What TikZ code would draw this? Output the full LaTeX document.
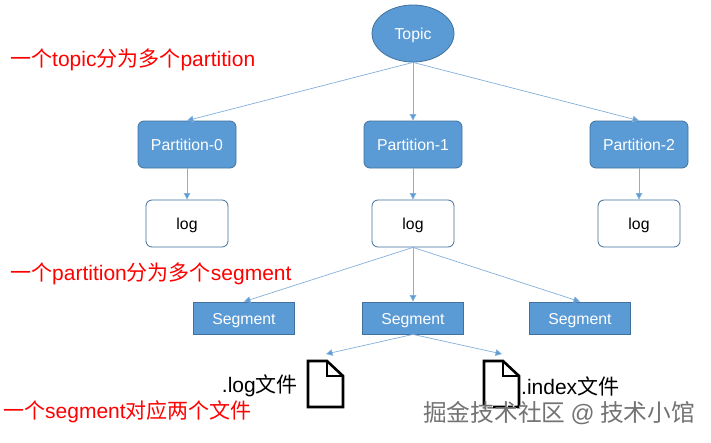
\documentclass[tikz,border=0pt]{standalone}
\usepackage{fontspec}
\setmainfont{Liberation Sans}
\newfontfamily\cjk{Noto Sans CJK SC}
\usetikzlibrary{shapes.geometric,arrows.meta}
\definecolor{fillb}{HTML}{5B9BD5}
\definecolor{edgeb}{HTML}{41719C}
\definecolor{linkb}{HTML}{84B0DC}
\newcommand\nt[1]{\raisebox{-6pt}[0pt][0pt]{#1}}
\tikzset{
  topicnode/.style={ellipse,draw=edgeb,fill=fillb,line width=0.8pt,minimum width=82pt,minimum height=57pt,inner sep=0pt,text=white,font=\fontsize{15.8}{17}\selectfont},
  partnode/.style={rectangle,rounded corners=6pt,draw=edgeb,fill=fillb,line width=0.8pt,minimum width=98pt,minimum height=47pt,inner sep=0pt,text=white,font=\fontsize{15.8}{17}\selectfont},
  lognode/.style={rectangle,rounded corners=6pt,draw=edgeb,fill=white,line width=0.8pt,minimum width=82pt,minimum height=47pt,inner sep=0pt,text=black,font=\fontsize{15.8}{17}\selectfont},
  segnode/.style={rectangle,draw=edgeb,fill=fillb,line width=0.8pt,minimum width=101pt,minimum height=32pt,inner sep=0pt,text=white,font=\fontsize{15.8}{17}\selectfont},
  link/.style={draw=linkb,line width=0.7pt,-{Triangle[length=6.5pt,width=6.5pt,fill=fillb]}},
  redtext/.style={text=red,anchor=west,inner sep=0pt,font=\fontsize{21}{23}\selectfont},
  blacktext/.style={text=black,inner sep=0pt,font=\fontsize{21}{23}\selectfont},
  filepath/.style={draw=black,line width=2.6pt,fill=white,line join=miter},
  mark text/.style={inner sep=0pt,font=\cjk\fontsize{23.7}{25}\selectfont}
}
\begin{document}
\begin{tikzpicture}[x=1pt,y=-1pt]
\useasboundingbox (0,0) rectangle (711,442);
\fill[white] (0,0) rectangle (711,442);
\node[topicnode] (topic) at (413,33.5) {\nt{Topic}};
\node[partnode] (p0) at (187,144.5) {\nt{Partition-0}};
\node[partnode] (p1) at (413,144.5) {\nt{Partition-1}};
\node[partnode] (p2) at (639,144.5) {\nt{Partition-2}};
\node[lognode] (l0) at (187,223.5) {\nt{log}};
\node[lognode] (l1) at (413,223.5) {\nt{log}};
\node[lognode] (l2) at (639,223.5) {\nt{log}};
\node[segnode] (s0) at (244,318) {\nt{Segment}};
\node[segnode] (s1) at (413,318) {\nt{Segment}};
\node[segnode] (s2) at (580,318) {\nt{Segment}};
\coordinate (f0) at (326,354);
\coordinate (f1) at (502,354);
\draw[link] (topic.south) -- (p0.north);
\draw[link] (topic.south) -- (p1.north);
\draw[link] (topic.south) -- (p2.north);
\draw[link] (p0.south) -- (l0.north);
\draw[link] (p1.south) -- (l1.north);
\draw[link] (p2.south) -- (l2.north);
\draw[link] (l1.south) -- (s0.north);
\draw[link] (l1.south) -- (s1.north);
\draw[link] (l1.south) -- (s2.north);
\draw[link] (s1.south) -- (f0);
\draw[link] (s1.south) -- (f1);
\draw[filepath] (308,361) -- (327,361) -- (343,376) -- (343,407) -- (308,407) -- cycle;
\draw[draw=black,line width=2.2pt] (327,361) -- (327,376) -- (343,376);
\draw[filepath] (484,361) -- (503,361) -- (519,376) -- (519,407) -- (484,407) -- cycle;
\draw[draw=black,line width=2.2pt] (503,361) -- (503,376) -- (519,376);
\node[redtext] (t1) at (10,60) {{\cjk 一个}topic{\cjk 分为多个}partition};
\node[redtext] (t2) at (10,274) {{\cjk 一个}partition{\cjk 分为多个}segment};
\node[redtext] (t3) at (3,412) {{\cjk 一个}segment{\cjk 对应两个文件}};
\node[blacktext,anchor=east] (t4) at (298,386) {.log{\cjk 文件}};
\node[blacktext,anchor=west] (t5) at (521,386) {.index{\cjk 文件}};
\node[mark text,text=white,anchor=west] (w0) at (423.8,414) {掘金技术社区 {\fontspec{Liberation Sans}@} 技术小馆};
\node[mark text,text=black!55,anchor=west] (w1) at (423,413) {掘金技术社区 {\fontspec{Liberation Sans}@} 技术小馆};
\end{tikzpicture}
\end{document}
